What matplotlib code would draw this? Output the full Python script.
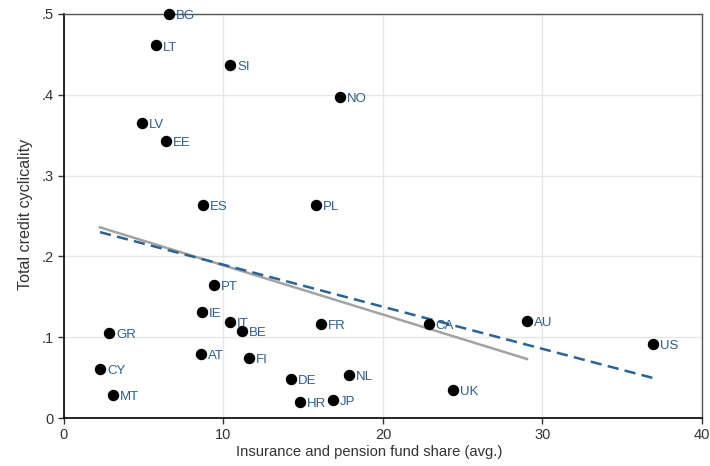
import matplotlib
matplotlib.use('Agg')
import matplotlib.pyplot as plt

plt.rcParams['font.family'] = ['Liberation Sans', 'DejaVu Sans']

# 国家代码及数据
countries = ['BG', 'LT', 'SI', 'NO', 'LV', 'EE', 'ES', 'PL', 'PT', 'IE', 'IT', 'BE', 'FR',
             'GR', 'AT', 'FI', 'CY', 'DE', 'NL', 'MT', 'HR', 'JP', 'CA', 'AU', 'US', 'UK']
ins_share = [6.58, 5.77, 10.41, 17.3, 4.89, 6.39, 8.71, 15.8, 9.40, 8.65, 10.41, 11.16, 16.11,
             2.82, 8.59, 11.6, 2.26, 14.23, 17.87, 3.07, 14.8, 16.87, 22.88, 29.03, 36.93, 24.39]
credit_cyc = [0.500, 0.461, 0.437, 0.397, 0.365, 0.343, 0.264, 0.264, 0.165, 0.131, 0.119, 0.108, 0.116,
              0.105, 0.079, 0.074, 0.061, 0.048, 0.053, 0.028, 0.020, 0.022, 0.116, 0.120, 0.092, 0.035]

# 拟合线端点
fit_excl_x = [2.26, 29.03]
fit_excl_y = [0.236, 0.073]
fit_all_x = [2.26, 36.93]
fit_all_y = [0.230, 0.0495]

xticks = [0, 10, 20, 30, 40]
yticks = [0, 0.1, 0.2, 0.3, 0.4, 0.5]
yticklabels = ['0', '.1', '.2', '.3', '.4', '.5']

fig = plt.figure(figsize=(7.1, 4.66), dpi=100)
ax = fig.add_axes([0.0901, 0.103, 0.8986, 0.867])

ax.plot(fit_excl_x, fit_excl_y, color='#a3a3a3', lw=1.8, zorder=2)
ax.plot(fit_all_x, fit_all_y, color='#2a6496', lw=1.8, ls=(0, (4.5, 2.5)), zorder=3)

ax.scatter(ins_share, credit_cyc, s=52, color='black', zorder=4, clip_on=False)
for c, x, y in zip(countries, ins_share, credit_cyc):
    ax.annotate(c, (x, y), xytext=(5, -1.5), textcoords='offset points',
                ha='left', va='center', fontsize=9.5, color='#2e5f8c', zorder=5)

ax.set_xlim(0, 40)
ax.set_ylim(0, 0.5)
ax.set_xticks(xticks)
ax.set_yticks(yticks)
ax.set_yticklabels(yticklabels)
ax.grid(True, color='#e6e6e6', lw=1.0)
ax.set_axisbelow(True)

for side in ['left', 'bottom']:
    ax.spines[side].set_color('black')
    ax.spines[side].set_linewidth(1.2)
for side in ['top', 'right']:
    ax.spines[side].set_color('#555555')
    ax.spines[side].set_linewidth(1.0)

ax.tick_params(axis='both', direction='out', length=4, width=1, labelsize=10.5, colors='#333333')
ax.set_xlabel('Insurance and pension fund share (avg.)', fontsize=10.6, color='#333333')
ax.set_ylabel('Total credit cyclicality', fontsize=11.6, color='#333333')
ax.xaxis.set_label_coords(0.479, -0.067)
ax.yaxis.set_label_coords(-0.048, 0.503)

fig.savefig('out.png', dpi=100)
